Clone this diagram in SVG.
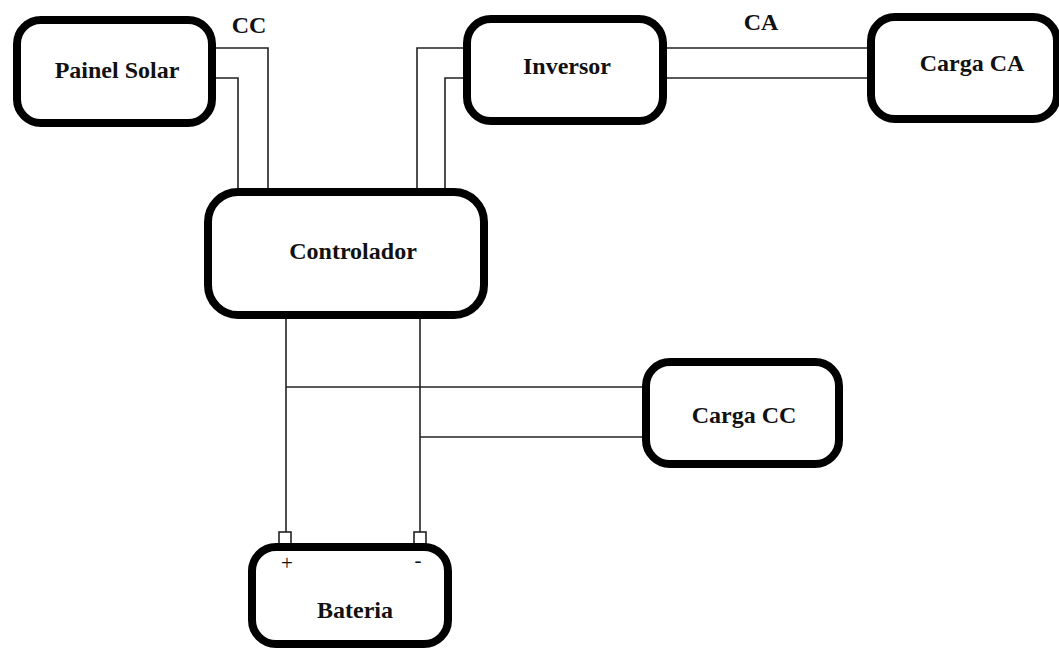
<svg xmlns="http://www.w3.org/2000/svg" width="1059" height="648" viewBox="0 0 1059 648">
<style>
.box{fill:#fff;stroke:#000;stroke-width:8}
.lbl{font-family:"Liberation Serif",serif;font-weight:bold;font-size:24px;fill:#111;text-anchor:middle}
.sym{font-family:"Liberation Serif",serif;font-size:21px;fill:#111;text-anchor:middle}
.wire{fill:none;stroke:#222;stroke-width:1.6}
</style>
<rect width="1059" height="648" fill="#fff"/>
<g id="connectors">
<polyline class="wire" points="214,48 268,48 268,190"/>
<polyline class="wire" points="214,78 238,78 238,190"/>
<polyline class="wire" points="465,48 417,48 417,190"/>
<polyline class="wire" points="465,78 445,78 445,190"/>
<line class="wire" x1="665" y1="48" x2="869" y2="48"/>
<line class="wire" x1="665" y1="78" x2="869" y2="78"/>
<line class="wire" x1="286" y1="317" x2="286" y2="532"/>
<line class="wire" x1="420" y1="317" x2="420" y2="532"/>
<line class="wire" x1="286" y1="387" x2="644" y2="387"/>
<line class="wire" x1="420" y1="437" x2="644" y2="437"/>
<text class="lbl" x="249" y="33">CC</text>
<text class="lbl" x="761" y="30">CA</text>
</g>
<g id="painel">
<rect class="box" x="17" y="20" width="195" height="103" rx="24"/>
<text class="lbl" x="117" y="78">Painel Solar</text>
</g>
<g id="inversor">
<rect class="box" x="467" y="19" width="196" height="102" rx="24"/>
<text class="lbl" x="567" y="74">Inversor</text>
</g>
<g id="cargaca">
<rect class="box" x="871" y="17" width="186" height="102" rx="24"/>
<text class="lbl" x="972" y="71">Carga CA</text>
</g>
<g id="controlador">
<rect class="box" x="208" y="192" width="276" height="123" rx="30"/>
<text class="lbl" x="353" y="259">Controlador</text>
</g>
<g id="cargacc">
<rect class="box" x="646" y="362" width="193" height="102" rx="24"/>
<text class="lbl" x="744" y="423">Carga CC</text>
</g>
<g id="bateria">
<rect class="wire" x="279" y="532" width="12" height="12" fill="#fff"/>
<rect class="wire" x="414" y="532" width="12" height="12" fill="#fff"/>
<rect class="box" x="252" y="547" width="196" height="97" rx="24"/>
<text class="sym" x="287" y="570">+</text>
<text class="sym" x="418" y="567">-</text>
<text class="lbl" x="355" y="618">Bateria</text>
</g>
</svg>
